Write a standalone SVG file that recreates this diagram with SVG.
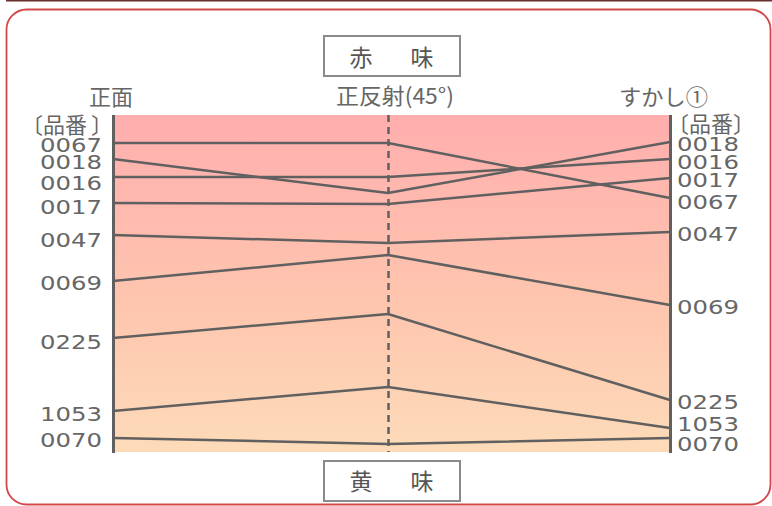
<svg xmlns="http://www.w3.org/2000/svg" width="772" height="506" viewBox="0 0 772 506">
<defs>
<linearGradient id="bg" x1="0" y1="0" x2="0" y2="1">
<stop offset="0" stop-color="#FFAEAE"/>
<stop offset="0.55" stop-color="#FEC5AE"/>
<stop offset="1" stop-color="#FDDBB9"/>
</linearGradient>
<style>
.lbl{font-family:"Noto Sans CJK JP","Noto Sans",sans-serif;fill:#666;font-size:22px}
.num{font-family:"DejaVu Sans","Noto Sans",sans-serif;fill:#666;font-size:20px}
.box{fill:#fff;stroke:#8a8a8a;stroke-width:2}
.boxt{font-family:"Noto Sans CJK JP",sans-serif;fill:#555;font-size:23px;text-anchor:middle}
.ser{fill:none;stroke:#606060;stroke-width:2.5;stroke-linejoin:round}
.axis{stroke:#606060;stroke-width:3}
</style>
</defs>
<rect x="0" y="0" width="772" height="506" fill="#fff"/>
<line x1="6" y1="0.5" x2="772" y2="0.5" stroke="#6b2e2e" stroke-width="2"/>
<rect x="6.5" y="9.5" width="764" height="495" rx="20" ry="20" fill="none" stroke="#d24848" stroke-width="1.8"/>

<g id="plot">
<rect x="114" y="115" width="556" height="337" fill="url(#bg)"/>
<line class="axis" x1="113.5" y1="115" x2="113.5" y2="453"/>
<line class="axis" x1="670.5" y1="115" x2="670.5" y2="453"/>
<line x1="388.5" y1="115" x2="388.5" y2="452" stroke="#606060" stroke-width="2.5" stroke-dasharray="7 5"/>
</g>

<g id="connectors">
<polyline id="s0067" class="ser" points="113,143 388,143 670,198"/>
<polyline id="s0018" class="ser" points="113,159 388,193 670,142"/>
<polyline id="s0016" class="ser" points="113,177 388,177 670,159"/>
<polyline id="s0017" class="ser" points="113,203 388,204 670,178"/>
<polyline id="s0047" class="ser" points="113,235 388,243 670,232"/>
<polyline id="s0069" class="ser" points="113,281 388,255 670,305"/>
<polyline id="s0225" class="ser" points="113,338 388,314 670,400"/>
<polyline id="s1053" class="ser" points="113,411 388,387 670,428"/>
<polyline id="s0070" class="ser" points="113,438 388,444 670,438"/>
</g>

<g id="top-box">
<rect class="box" x="324" y="36" width="136" height="40"/>
<text class="boxt" x="361" y="66">赤</text>
<text class="boxt" x="422" y="66">味</text>
</g>
<g id="bottom-box">
<rect class="box" x="324" y="461" width="136" height="40"/>
<text class="boxt" x="361" y="490">黄</text>
<text class="boxt" x="422" y="490">味</text>
</g>

<g id="headers">
<text class="lbl" x="89" y="105" textLength="44" lengthAdjust="spacingAndGlyphs">正面</text>
<text class="lbl" x="336" y="104" textLength="118" lengthAdjust="spacingAndGlyphs">正反射(45°)</text>
<text class="lbl" x="619" y="105" textLength="89" lengthAdjust="spacingAndGlyphs">すかし①</text>
</g>

<g id="left-labels">
<text class="lbl" x="21" y="133">〔品番<tspan dx="4">〕</tspan></text>
<text class="num" x="40" y="152" textLength="62" lengthAdjust="spacingAndGlyphs">0067</text>
<text class="num" x="40" y="169" textLength="62" lengthAdjust="spacingAndGlyphs">0018</text>
<text class="num" x="40" y="190" textLength="62" lengthAdjust="spacingAndGlyphs">0016</text>
<text class="num" x="40" y="214" textLength="62" lengthAdjust="spacingAndGlyphs">0017</text>
<text class="num" x="40" y="247" textLength="62" lengthAdjust="spacingAndGlyphs">0047</text>
<text class="num" x="40" y="290" textLength="62" lengthAdjust="spacingAndGlyphs">0069</text>
<text class="num" x="40" y="349" textLength="62" lengthAdjust="spacingAndGlyphs">0225</text>
<text class="num" x="40" y="421" textLength="62" lengthAdjust="spacingAndGlyphs">1053</text>
<text class="num" x="40" y="447" textLength="62" lengthAdjust="spacingAndGlyphs">0070</text>
</g>

<g id="right-labels">
<text class="lbl" x="667" y="132">〔品番〕</text>
<text class="num" x="677" y="151" textLength="62" lengthAdjust="spacingAndGlyphs">0018</text>
<text class="num" x="677" y="169" textLength="62" lengthAdjust="spacingAndGlyphs">0016</text>
<text class="num" x="677" y="187" textLength="62" lengthAdjust="spacingAndGlyphs">0017</text>
<text class="num" x="677" y="209" textLength="62" lengthAdjust="spacingAndGlyphs">0067</text>
<text class="num" x="677" y="241" textLength="62" lengthAdjust="spacingAndGlyphs">0047</text>
<text class="num" x="677" y="314" textLength="62" lengthAdjust="spacingAndGlyphs">0069</text>
<text class="num" x="677" y="409" textLength="62" lengthAdjust="spacingAndGlyphs">0225</text>
<text class="num" x="677" y="431" textLength="62" lengthAdjust="spacingAndGlyphs">1053</text>
<text class="num" x="677" y="451" textLength="62" lengthAdjust="spacingAndGlyphs">0070</text>
</g>
</svg>
